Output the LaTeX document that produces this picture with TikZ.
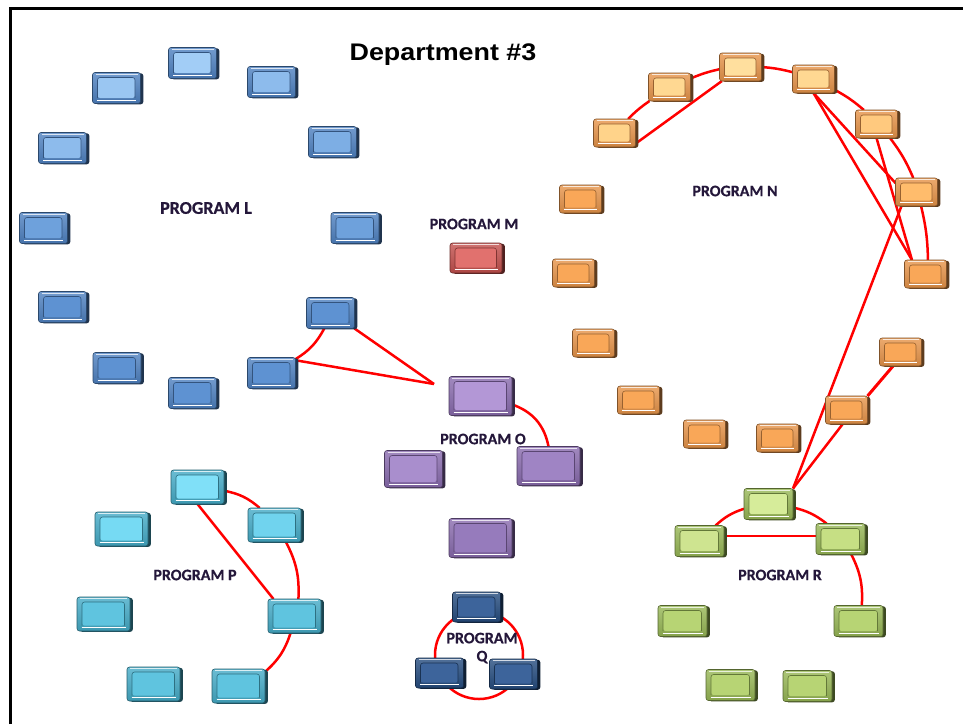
\documentclass[tikz,border=0pt]{standalone}
\usepackage{fontspec}
\setmainfont{Carlito}
\newfontfamily\labfont{Carlito}[BoldFeatures={FakeBold=0.5}]
\newfontfamily\headfont{Liberation Sans}[FakeStretch=1.12]
\usetikzlibrary{shadows,backgrounds}

% line and text colours
\definecolor{wire}{HTML}{FF0000}
\definecolor{ink}{HTML}{24173A}
% program L (blue)
\definecolor{Lo}{HTML}{4F82C2}
\definecolor{La}{HTML}{A2CDF6}
\definecolor{Lb}{HTML}{9AC6F2}
\definecolor{Lc}{HTML}{8DBBEC}
\definecolor{Ld}{HTML}{7DAEE4}
\definecolor{Le}{HTML}{6EA1DC}
\definecolor{Lf}{HTML}{5E92D2}
% program N (orange)
\definecolor{No}{HTML}{E8954A}
\definecolor{Na}{HTML}{FFDF9E}
\definecolor{Nb}{HTML}{FFD892}
\definecolor{Nc}{HTML}{FFD38A}
\definecolor{Nd}{HTML}{FFC97E}
\definecolor{Ne}{HTML}{FFBC6C}
\definecolor{Nf}{HTML}{F9A758}
% program M (red)
\definecolor{Mo}{HTML}{C4504D}
\definecolor{Mi}{HTML}{E1716E}
% program O (purple)
\definecolor{Oo}{HTML}{8A6CAF}
\definecolor{Oa}{HTML}{B397D6}
\definecolor{Ob}{HTML}{A98ECD}
\definecolor{Oc}{HTML}{9F84C4}
\definecolor{Od}{HTML}{967BBC}
% program P (cyan)
\definecolor{Po}{HTML}{45ACC8}
\definecolor{Pa}{HTML}{80E0F8}
\definecolor{Pb}{HTML}{70D3EE}
\definecolor{Pc}{HTML}{76DAF3}
\definecolor{Pd}{HTML}{5FC4DF}
% program Q (navy)
\definecolor{Qo}{HTML}{264D80}
\definecolor{Qi}{HTML}{3D649B}
% program R (green)
\definecolor{Ro}{HTML}{98B856}
\definecolor{Ra}{HTML}{D6EC9A}
\definecolor{Rb}{HTML}{CEE490}
\definecolor{Rc}{HTML}{C6DF84}
\definecolor{Rd}{HTML}{B7D474}

\begin{document}
\begin{tikzpicture}[x=1pt,y=-1pt,
  % bevelled 3-D unit: #1 frame colour, #2 face colour
  unit/.style 2 args={
    draw=#1!55!black, line width=0.6pt, top color=#1!80!white, bottom color=#1!88!black,
    rounded corners=2.5pt, inner sep=0pt, outer sep=0pt,
    drop shadow={shadow xshift=2.8pt, shadow yshift=-0.8pt, fill=#1!40!black, opacity=1},
    path picture={
      \path (path picture bounding box.south west) coordinate (sw)
            (path picture bounding box.north east) coordinate (ne);
      \fill[#2] ([shift={(5pt,5.5pt)}]sw) rectangle ([shift={(-5.5pt,-5pt)}]ne);
      \draw[#1!65!black, line width=0.6pt]
        ([shift={(5pt,5.5pt)}]sw) |- ([shift={(-5.5pt,-5pt)}]ne) -- ([shift={(-5.5pt,5.5pt)}]ne |- sw);
      \draw[white, line width=1.2pt]
        ([shift={(4.5pt,3.2pt)}]sw) -- ([shift={(-4.5pt,3.2pt)}]sw -| ne);
      \draw[white, opacity=0.75, line width=0.7pt]
        ([shift={(3pt,-1.5pt)}]sw |- ne) -- ([shift={(-3pt,-1.5pt)}]ne);
    }},
  lbox/.style={unit={Lo}{#1}, minimum width=48pt, minimum height=31pt},
  nbox/.style={unit={No}{#1}, minimum width=42pt, minimum height=28pt},
  mbox/.style={unit={Mo}{#1}, minimum width=52pt, minimum height=30pt},
  obox/.style={unit={Oo}{#1}, minimum width=63pt, minimum height=39pt},
  pbox/.style={unit={Po}{#1}, minimum width=53pt, minimum height=34pt},
  qbox/.style={unit={Qo}{#1}, minimum width=48pt, minimum height=30pt},
  rbox/.style={unit={Ro}{#1}, minimum width=49pt, minimum height=31pt},
  tag/.style={text=ink, font=\labfont\fontsize{16}{18}\selectfont\bfseries, align=center, inner sep=0pt},
  wire/.style={draw=wire, line width=2.5pt},
]
\useasboundingbox (0,0) rectangle (963,724);

% frame
\draw[line width=3pt] (10.5,724) -- (10.5,8) -- (963,8);

% title
\node[inner sep=0pt, font=\headfont\bfseries\fontsize{24}{28}\selectfont] (title) at (443,55) {Department \#3};

% program L
\node[lbox=Lc] (l1) at (62.5,148) {};
\node[lbox=Lb] (l2) at (116.5,88) {};
\node[lbox=La] (l3) at (192.5,63) {};
\node[lbox=Lc] (l4) at (271.5,82) {};
\node[lbox=Ld] (l5) at (332.5,142) {};
\node[lbox=Le] (l6) at (43.5,228) {};
\node[lbox=Le] (l7) at (355,228) {};
\node[lbox=Lf] (l8) at (62.5,307) {};
\node[lbox=Lf] (l9) at (117,368) {};
\node[lbox=Lf] (l10) at (192.5,393) {};
\node[lbox=Lf] (l11) at (271.5,373) {};
\node[lbox=Lf] (l12) at (330.5,313) {};
\node[tag, font=\labfont\fontsize{18}{20}\selectfont\bfseries] (tl) at (206,208) {PROGRAM L};

% program N
\node[nbox=Nc] (n1) at (614.5,133) {};
\node[nbox=Nb] (n2) at (669.5,87) {};
\node[nbox=Na] (n3) at (740.5,67) {};
\node[nbox=Nb] (n4) at (813.5,79) {};
\node[nbox=Nd] (n5) at (876.5,124) {};
\node[nbox=Ne] (n6) at (916.5,192) {};
\node[nbox=Nf] (n7) at (925.5,274) {};
\node[nbox=Nf] (n8) at (580.5,199) {};
\node[nbox=Nf] (n9) at (573.5,273) {};
\node[nbox=Nf] (n10) at (593.5,343) {};
\node[nbox=Nf] (n11) at (638.5,400) {};
\node[nbox=Nf] (n12) at (704.5,434) {};
\node[nbox=Nf] (n13) at (777.5,438) {};
\node[nbox=Nf] (n14) at (846.5,410) {};
\node[nbox=Nf] (n15) at (900.5,352) {};
\node[tag] (tn) at (735,191) {PROGRAM N};

% program M
\node[mbox=Mi] (m1) at (476,258) {};
\node[tag] (tm) at (474,224) {PROGRAM M};

% program O
\node[obox=Oa] (o1) at (480.5,396) {};
\node[obox=Ob, minimum width=58pt, minimum height=37pt] (o2) at (413.5,469) {};
\node[obox=Oc] (o3) at (548.5,466) {};
\node[obox=Od] (o4) at (480.5,538) {};
\node[tag] (to) at (483,439) {PROGRAM O};

% program P
\node[pbox=Pa] (p1) at (197.5,487) {};
\node[pbox=Pb] (p2) at (274.5,525) {};
\node[pbox=Pc] (p3) at (121.5,529) {};
\node[pbox=Pd] (p4) at (103.5,614) {};
\node[pbox=Pd] (p5) at (294.5,616) {};
\node[pbox=Pd] (p6) at (153.5,684) {};
\node[pbox=Pd] (p7) at (238.5,686) {};
\node[tag] (tp) at (195,575) {PROGRAM P};

% program Q
\coordinate (qc) at (479,655);
\node[qbox=Qi] (q1) at (476.5,607) {};
\node[qbox=Qi] (q2) at (439.5,673) {};
\node[qbox=Qi] (q3) at (513.5,674) {};
\node[tag] (tq) at (482,648) {PROGRAM\\Q};

% program R
\node[rbox=Ra] (r1) at (768.5,504) {};
\node[rbox=Rb] (r2) at (699.5,541) {};
\node[rbox=Rc] (r3) at (840.5,539) {};
\node[rbox=Rd] (r4) at (858.5,621) {};
\node[rbox=Rd] (r5) at (682.5,621) {};
\node[rbox=Rd] (r6) at (730.5,685) {};
\node[rbox=Rd] (r7) at (807.5,686) {};
\node[tag] (tr) at (780,575) {PROGRAM R};

% links, kept behind the units
\begin{scope}[on background layer]
  % L to O
  \coordinate (lo) at (434,384);
  \draw[wire] (l12.248) to[bend left=15] (l11.30);
  \draw[wire] (l11.28) -- (lo);
  \draw[wire] (l12.south east) -- (lo);
  % O
  \draw[wire] (o1.-15) to[bend left=30] (o3.north);
  % N ring
  \draw[wire] (n1.46) to[bend left=5] (n2.215);
  \draw[wire] (n2.22) to[bend left=5] (n3.186);
  \draw[wire] (n3.east) to[bend left=5] (n4.162);
  \draw[wire] (n4.-27) to[bend left=6] (n5.132);
  \draw[wire] (n5.-46) to[bend left=7] (n6.103);
  \draw[wire] (n6.-72) to[bend left=6] (n7.80);
  \draw[wire] (n1.-27) -- (n3.217);
  \draw[wire] (n4.south) -- (n6.157);
  \draw[wire] (n4.south) -- (n7.134);
  \draw[wire] (n5.south) -- (n7.134);
  \draw[wire, line width=3pt] (n14.north east) -- (n15.242);
  % N to R
  \draw[wire] (n6.223) -- (r1.north east);
  \draw[wire] (n14.-105) -- (r1.north east);
  % R
  \draw[wire] (r2.44) to[bend left=12] (r1.191);
  \draw[wire] (r1.-8) to[bend left=12] (r3.132);
  \draw[wire] (r2.12) -- (r2.12 -| r3.west);
  \draw[wire] (r3.-55) to[bend left=15] (r4.78);
  % P
  \draw[wire] (p1.-8) to[bend left=15] (p2.131);
  \draw[wire] (p2.-56) to[bend left=15] (p5.77);
  \draw[wire] (p5.257) to[bend left=15] (p7.28);
  \draw[wire] (p1.south) -- (p5.141);
  % Q ring
  \draw[wire] (qc) circle (44pt);
\end{scope}
\end{tikzpicture}
\end{document}
